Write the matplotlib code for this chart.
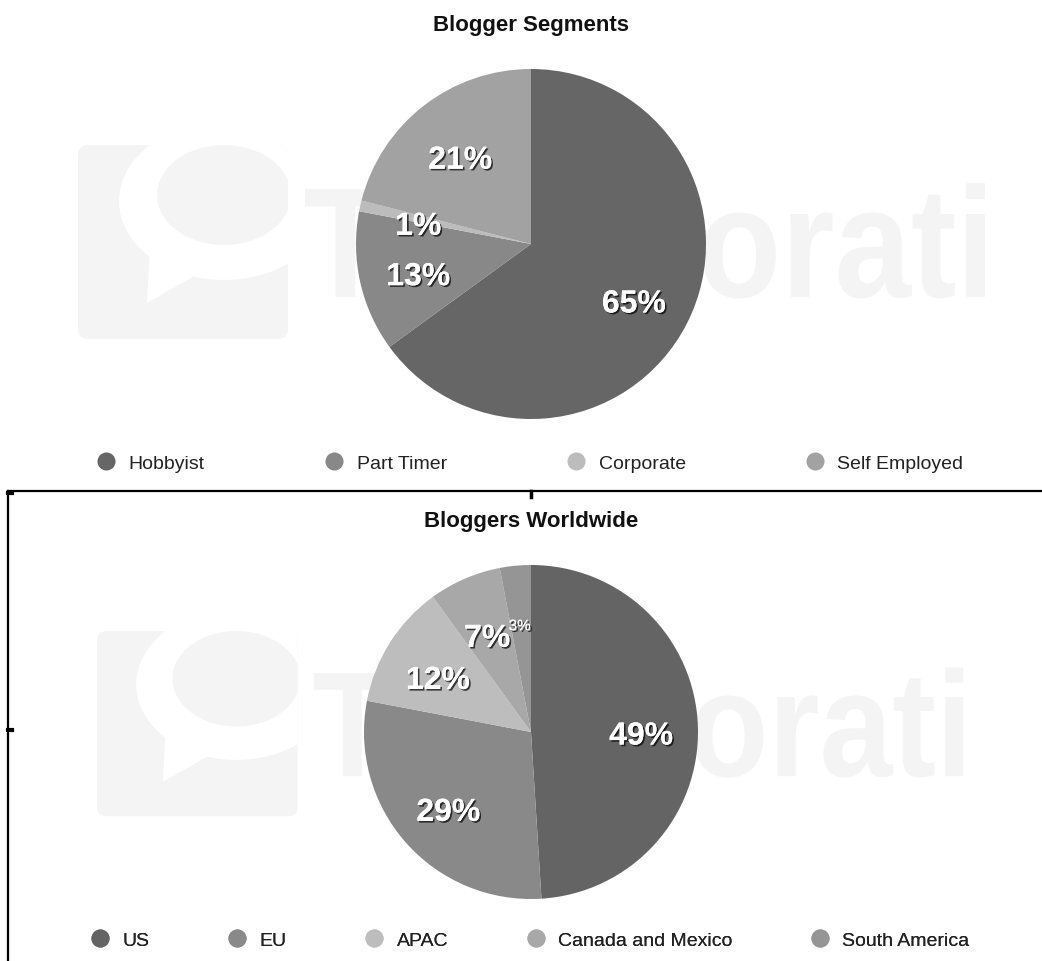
import matplotlib
matplotlib.use('Agg')
import matplotlib.pyplot as plt
import matplotlib.patheffects as pe
from matplotlib.lines import Line2D
from matplotlib.patches import FancyBboxPatch, Ellipse, Polygon, PathPatch
from matplotlib.textpath import TextPath
from matplotlib.font_manager import FontProperties
from matplotlib.transforms import Affine2D

plt.rcParams['font.family'] = ['Liberation Sans', 'DejaVu Sans']

# data
segment_labels = ['Hobbyist', 'Part Timer', 'Corporate', 'Self Employed']
segment_values = [65, 13, 1, 21]
segment_colors = ['#666666', '#888888', '#bcbcbc', '#a2a2a2']

region_labels = ['US', 'EU', 'APAC', 'Canada and Mexico', 'South America']
region_values = [49, 29, 12, 7, 3]
region_colors = ['#646464', '#898989', '#bdbdbd', '#a8a8a8', '#959595']
region_small = ['South America']   # label printed in small type

W, H = 1042, 962


def fy(y):
    # pixel row from top -> data y
    return H - y


fig = plt.figure(figsize=(W / 100, H / 100), dpi=100)
ax = fig.add_axes([0, 0, 1, 1])

WM = '#f4f4f4'


def watermark(x0, y0, s):
    # rounded logo box with a speech bubble cut out of it
    def P(dx, dy):
        return x0 + dx * s, fy(y0 + dy * s)

    box = FancyBboxPatch(P(0, 194), 210 * s, 194 * s,
                         boxstyle='round,pad=0,rounding_size=%g' % (10 * s),
                         fc=WM, ec='none', zorder=0)
    ax.add_patch(box)
    outer = Ellipse(P(146, 56), 210 * s, 158 * s, fc='white', ec='none', zorder=0)
    inner = Ellipse(P(146, 50), 134 * s, 100 * s, fc=WM, ec='none', zorder=0)
    tail = Polygon([P(72, 100), P(69, 158), P(125, 126)], fc='white',
                   ec='none', zorder=0)
    for p in (outer, tail, inner):
        ax.add_patch(p)
        p.set_clip_path(box)
    # wordmark, squeezed to fit its box
    fp = FontProperties(family='Liberation Sans', weight='bold')
    tp = TextPath((0, 0), 'Technorati', size=100, prop=fp)
    cap = TextPath((0, 0), 'T', size=100, prop=fp).get_extents()
    full = tp.get_extents()
    tx0, tx1 = x0 + 227 * s, x0 + 907 * s
    sx = (tx1 - tx0) / full.width
    sy = 108 * s / cap.height
    tr = Affine2D().translate(-full.x0, 0).scale(sx, sy).translate(tx0, fy(y0 + 152 * s))
    ax.add_patch(PathPatch(tr.transform_path(tp), fc=WM, ec='none', zorder=0))


watermark(78, 146, 1.0)
watermark(97, 632, 0.955)

shadow = [pe.withSimplePatchShadow(offset=(1.2, -1.2), shadow_rgbFace='black',
                                   alpha=0.7), pe.Normal()]


def draw_pie(values, colors, labels, small, cx, cy, r, title, title_y,
             legend_y, colsp):
    wedges, _, autotexts = ax.pie(values, colors=colors, startangle=90,
                                  counterclock=False, center=(cx, fy(cy)),
                                  radius=r, autopct=lambda p: f'{p:.0f}%',
                                  pctdistance=0.66,
                                  wedgeprops=dict(linewidth=0),
                                  textprops=dict(color='white', fontsize=23,
                                                 fontweight='bold'))
    for w in wedges:
        w.set_zorder(2)
    for t, lab in zip(autotexts, labels):
        t.set_path_effects(shadow)
        t.set_zorder(3)
        x, y = t.get_position()
        if lab in small:
            t.set_fontsize(11)
            t.set_fontweight('normal')
            t.set_position((x - 1, y - 4))
        else:
            t.set_position((x, y - 8))
    ax.text(cx, fy(title_y), title, ha='center', va='center', fontsize=16,
            fontweight='bold', color='#111111')
    handles = [Line2D([], [], ls='none', marker='o', ms=13, mfc=c, mec='none')
               for c in colors]
    leg = ax.legend(handles, labels, loc='center', ncol=len(labels),
                    bbox_to_anchor=(cx, fy(legend_y)),
                    bbox_transform=ax.transData, frameon=False, fontsize=14,
                    handlelength=0.8, handletextpad=0.75, columnspacing=colsp,
                    labelcolor='#222222')
    ax.add_artist(leg)


draw_pie(segment_values, segment_colors, segment_labels, [], 531, 245, 175,
         'Blogger Segments', 25, 464, 6.25)
draw_pie(region_values, region_colors, region_labels, region_small, 531, 733,
         167, 'Bloggers Worldwide', 522, 941, 4.1)

# panel border of the lower chart
ax.plot([8, W], [fy(492), fy(492)], color='black', lw=1.6, zorder=5)
ax.plot([8, 8], [fy(492), 0], color='black', lw=1.6, zorder=5)
ax.plot([531, 531], [fy(492), fy(498)], color='black', lw=2.5, zorder=5)
ax.plot([8, 12], [fy(494), fy(494)], color='black', lw=3, zorder=5)
ax.plot([8, 12], [fy(731), fy(731)], color='black', lw=3, zorder=5)

ax.set_xlim(0, W)
ax.set_ylim(0, H)
ax.set_aspect('equal')
ax.axis('off')

fig.savefig('out.png', dpi=100, facecolor='white')
